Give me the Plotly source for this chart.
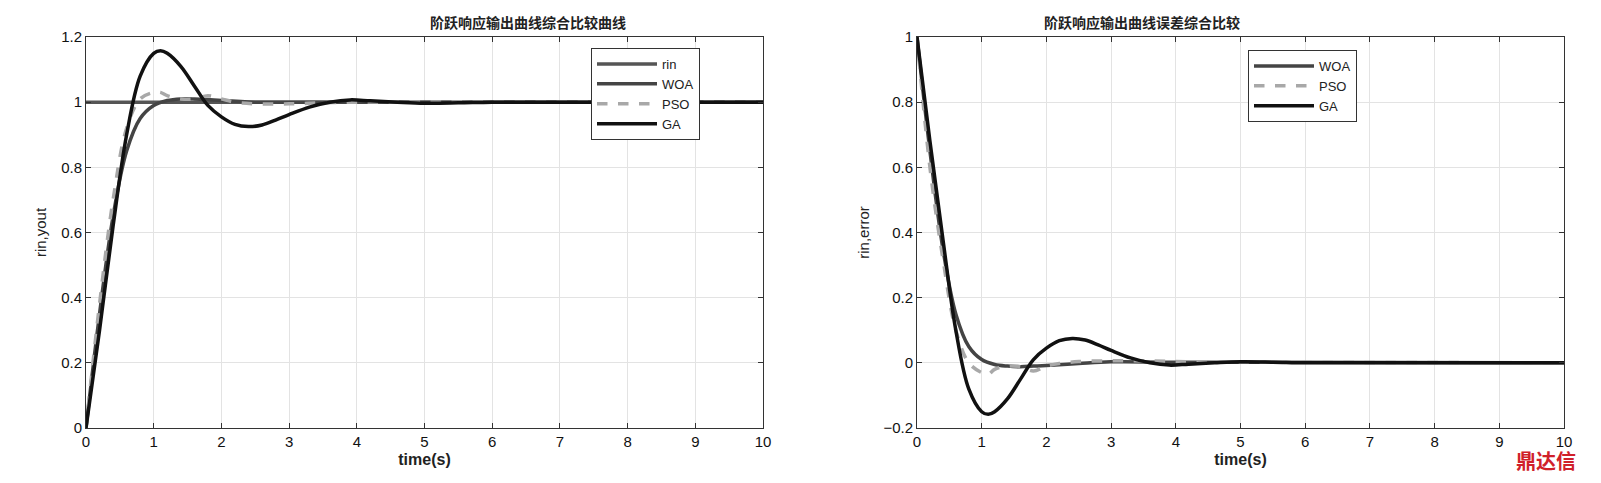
import plotly.graph_objects as go
from plotly.subplots import make_subplots

# left panel: step response
t_ga = [0, 0.2, 0.4, 0.6, 0.8, 1.0, 1.1, 1.2, 1.4, 1.6, 1.8, 2.0, 2.2, 2.4, 2.6, 2.8, 3.0, 3.3, 3.6, 3.9, 4.2, 4.6, 5, 5.5, 6, 7, 8, 10]
y_ga = [0, 0.3, 0.62, 0.9, 1.08, 1.15, 1.158, 1.15, 1.11, 1.05, 0.99, 0.955, 0.932, 0.925, 0.93, 0.945, 0.962, 0.985, 1.0, 1.007, 1.004, 1.0, 0.997, 0.998, 1.0, 1.0, 1.0, 1.0]
t_woa = [0, 0.2, 0.4, 0.6, 0.8, 1.0, 1.2, 1.4, 1.6, 1.8, 2.0, 2.5, 3, 4, 10]
y_woa = [0, 0.35, 0.65, 0.85, 0.95, 0.99, 1.005, 1.01, 1.01, 1.008, 1.005, 1.0, 1.0, 1.0, 1.0]
t_pso = [0, 0.2, 0.4, 0.6, 0.8, 1.0, 1.1, 1.2, 1.4, 1.6, 1.8, 2.0, 2.2, 2.5, 3, 3.5, 4, 10]
y_pso = [0, 0.38, 0.7, 0.92, 1.01, 1.03, 1.03, 1.02, 1.01, 1.01, 1.02, 1.01, 1.0, 0.995, 0.995, 0.998, 1.0, 1.0]
t_rin = [0, 10]
y_rin = [1, 1]

# right panel: error curves
e_woa = [1, 0.65, 0.35, 0.15, 0.05, 0.01, -0.005, -0.01, -0.012, -0.01, -0.008, -0.002, 0.003, 0.002, 0]
e_pso = [1, 0.6, 0.32, 0.1, 0.0, -0.03, -0.035, -0.02, -0.01, -0.012, -0.025, -0.01, -0.002, 0.004, 0.006, 0.006, 0.004, 0]
e_ga = [1, 0.68, 0.38, 0.1, -0.08, -0.15, -0.158, -0.15, -0.11, -0.05, 0.01, 0.045, 0.068, 0.075, 0.07, 0.055, 0.038, 0.015, 0.0, -0.007, -0.004, 0, 0.003, 0.002, 0, 0, 0, 0]

DARK, GREY, BLACK = "#444444", "#a8a8a8", "#111111"
TFONT = "Liberation Sans"
W, H = 1600, 483

fig = make_subplots(rows=1, cols=2)

def add(x, y, name, color, dash, col, legend, width=3.5):
    fig.add_trace(go.Scatter(x=x, y=y, name=name, mode="lines", legend=legend,
                             line=dict(color=color, dash=dash, width=width, shape="spline")),
                  row=1, col=col)

add(t_rin, y_rin, "rin", "#555555", "solid", 1, "legend")
add(t_woa, y_woa, "WOA", DARK, "solid", 1, "legend")
add(t_pso, y_pso, "PSO", GREY, "dash", 1, "legend")
add(t_ga, y_ga, "GA", BLACK, "solid", 1, "legend")
add(t_woa, e_woa, "WOA", DARK, "solid", 2, "legend2")
add(t_pso, e_pso, "PSO", GREY, "dash", 2, "legend2")
add(t_ga, e_ga, "GA", BLACK, "solid", 2, "legend2")

axis = dict(showline=True, linecolor="#333", linewidth=1, mirror="ticks", ticks="inside",
            ticklen=5, tickcolor="#333", showgrid=True, gridcolor="#e3e3e3", zeroline=False,
            automargin=False,
            tickfont=dict(family=TFONT, size=15, color="#111"))
fig.update_xaxes(axis, range=[0, 10], dtick=1,
                 title=dict(text="<b>time(s)</b>", font=dict(family=TFONT, size=16, color="#222"), standoff=4))
fig.update_yaxes(axis)
fig.update_xaxes(domain=[78 / W, 755 / W], row=1, col=1)
fig.update_xaxes(domain=[909 / W, 1556 / W], row=1, col=2)
ydom = [1 - 420 / H, 1 - 29 / H]
fig.update_yaxes(domain=ydom, range=[0, 1.2], dtick=0.2, row=1, col=1,
                 title=dict(text="rin,yout", font=dict(family=TFONT, size=15, color="#222"), standoff=10))
fig.update_yaxes(domain=ydom, range=[-0.2, 1], dtick=0.2, row=1, col=2,
                 title=dict(text="rin,error", font=dict(family=TFONT, size=15, color="#222"), standoff=10))

leg = dict(bgcolor="white", bordercolor="#333", borderwidth=1, xanchor="left", yanchor="top",
           font=dict(family=TFONT, size=13, color="#222"), tracegroupgap=0, itemwidth=60)
fig.update_layout(
    width=W, height=H, margin=dict(l=0, r=0, t=0, b=0, autoexpand=False),
    paper_bgcolor="white", plot_bgcolor="white",
    legend=dict(leg, x=583 / W, y=1 - 40 / H),
    legend2=dict(leg, x=1240 / W, y=1 - 42 / H),
    annotations=[
        dict(text="<b>阶跃响应输出曲线综合比较曲线</b>", x=420 / W, y=1 - 2 / H, xref="paper", yref="paper",
             showarrow=False, yanchor="top", font=dict(family="Noto Sans CJK SC", size=14, color="#222")),
        dict(text="<b>阶跃响应输出曲线误差综合比较</b>", x=1234 / W, y=1 - 2 / H, xref="paper", yref="paper",
             showarrow=False, yanchor="top", font=dict(family="Noto Sans CJK SC", size=14, color="#222")),
        dict(text="<b>鼎达信</b>", x=1570 / W, y=14 / H, xref="paper", yref="paper", xanchor="right",
             yanchor="bottom", showarrow=False, font=dict(family="Noto Sans CJK SC", size=20, color="#d0202a")),
    ],
)
fig.write_html("out.html")
